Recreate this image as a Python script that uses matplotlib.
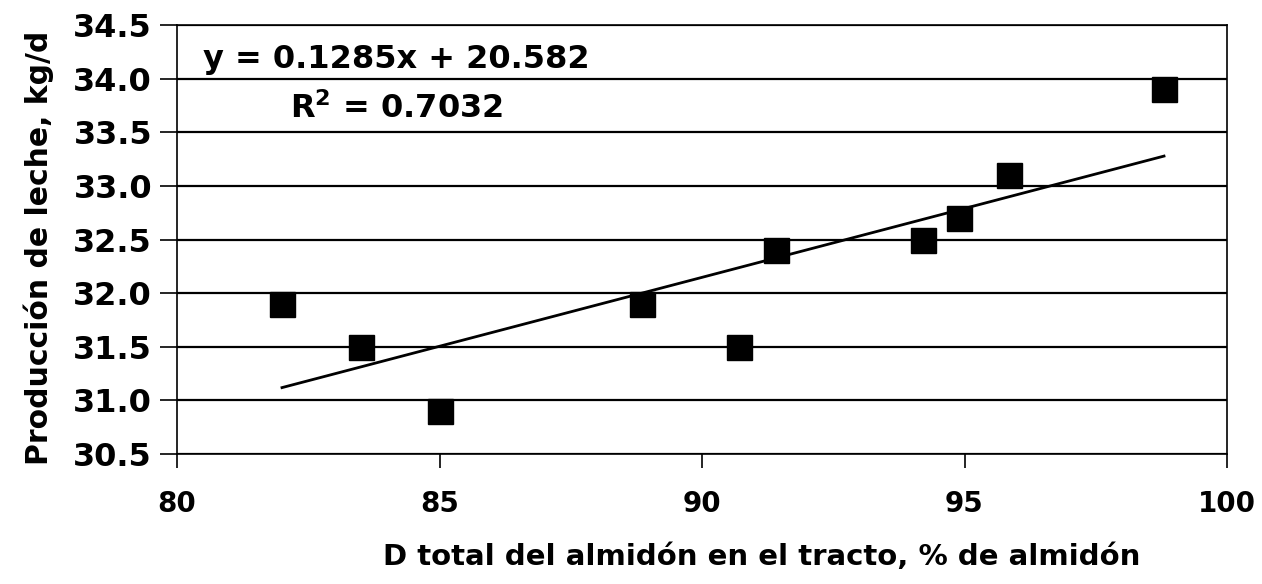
import matplotlib.pyplot as plt
import numpy as np

# digestibilidad total del almidón vs producción de leche
digest = [82.0, 83.5, 85.0, 88.85, 90.7, 91.4, 94.2, 94.9, 95.85, 98.8]
leche = [31.9, 31.5, 30.9, 31.9, 31.5, 32.4, 32.5, 32.7, 33.1, 33.9]
slope = 0.1285
intercept = 20.582
r2 = 0.7032

plt.rcParams['font.family'] = 'DejaVu Sans'
plt.rcParams['font.weight'] = 'bold'

fig = plt.figure(figsize=(12.62, 5.84), dpi=100)
ax = fig.add_axes([177 / 1262, 1 - 454 / 584, 1050 / 1262, 429 / 584])

for yv in np.arange(30.5, 34.51, 0.5):
    ax.axhline(yv, color='black', lw=1.6, zorder=1)

xl = np.array([min(digest), max(digest)])
ax.plot(xl, slope * xl + intercept, color='black', lw=2, zorder=2)
ax.plot(digest, leche, 's', color='black', markersize=18, zorder=3)

ax.set_xlim(80, 100)
ax.set_ylim(30.5, 34.5)
ax.set_xticks([80, 85, 90, 95, 100])
ax.set_yticks(np.arange(30.5, 34.51, 0.5))
ax.set_yticklabels([f'{v:.1f}' for v in np.arange(30.5, 34.51, 0.5)])
ax.tick_params(axis='y', direction='out', length=12, width=1.2, labelsize=23, pad=6)
ax.tick_params(axis='x', direction='out', length=10, width=1.2, labelsize=20, pad=16)
for s in ax.spines.values():
    s.set_linewidth(1.2)

ax.text(0.025, 0.92, f'y = {slope}x + {intercept}', transform=ax.transAxes,
        fontsize=23, fontweight='bold', va='center', ha='left')
ax.text(0.108, 0.805, f'R$^2$ = {r2}', transform=ax.transAxes,
        fontsize=23, fontweight='bold', va='center', ha='left')

ax.set_xlabel('D total del almidón en el tracto, % de almidón', fontsize=21,
              fontweight='bold', va='center')
ax.xaxis.set_label_coords(0.557, -0.24)
ax.set_ylabel('Producción de leche, kg/d', fontsize=21.5, fontweight='bold', va='center')
ax.yaxis.set_label_coords(-0.132, 0.48)

fig.savefig('out.png', dpi=100)
